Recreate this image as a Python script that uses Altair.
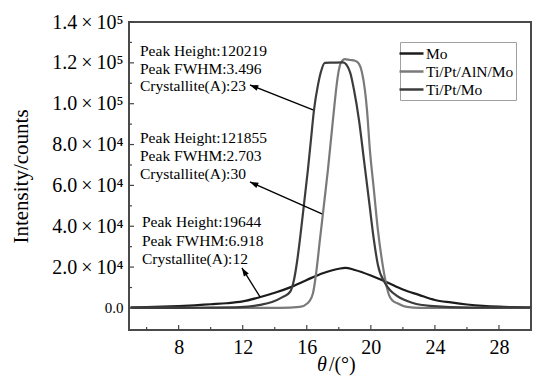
import altair as alt
import pandas as pd

# ---------------- data ----------------
series_names = ["Mo", "Ti/Pt/AlN/Mo", "Ti/Pt/Mo"]
series_colors = ["#1c1c1c", "#7a7a7a", "#3c3c3c"]

mo_x = [5, 6, 7, 8, 9, 10, 11, 12, 13, 14, 15, 16, 17, 18, 18.4, 19, 20, 21, 22, 23, 24, 25, 26, 27, 28, 29, 30]
mo_y = [300, 400, 600, 900, 1300, 1800, 2300, 3200, 5100, 7400, 10200, 13700, 17000, 19200, 19644, 18600,
        15900, 12600, 9000, 6400, 3900, 2700, 1700, 1000, 600, 400, 300]

aln_x = [5, 10, 14.33, 15.57, 16.07, 16.39, 16.57, 16.82, 17.07, 17.32, 17.57, 17.76, 17.95, 18.13, 18.38,
         18.70, 19.01, 19.26, 19.44, 19.63, 19.76, 19.94, 20.19, 20.44, 20.69, 20.94, 21.13, 21.32, 21.63,
         22.25, 23.06, 30]
aln_y = [0, 0, 0, 500, 2400, 7300, 16200, 33300, 50400, 67600, 87100, 101800, 114100, 120000, 121855,
         121400, 121000, 119500, 115500, 106700, 96900, 77400, 57800, 38200, 23500, 12200, 6400, 3900, 2400,
         500, 0, 0]

tpm_x = [5, 8, 10, 11.83, 13.08, 13.83, 14.51, 14.95, 15.20, 15.39, 15.57, 15.82, 16.07, 16.26, 16.45, 16.70,
         16.88, 17.13, 17.60, 18.26, 18.70, 18.95, 19.26, 19.57, 19.88, 20.19, 20.44, 20.88, 21.19, 21.63,
         22.63, 23.69, 26.19, 30]
tpm_y = [0, 50, 150, 400, 1500, 2900, 5400, 7800, 13700, 22500, 33300, 50400, 67600, 82300, 96900, 109200,
         115500, 120000, 120100, 120219, 115500, 106700, 92000, 72500, 52900, 33300, 21100, 12200, 8800, 5900,
         2400, 1000, 150, 100]

y_major = [0, 20000, 40000, 60000, 80000, 100000, 120000, 140000]
y_minor = [10000, 30000, 50000, 70000, 90000, 110000, 130000]
x_major = [8, 12, 16, 20, 24, 28]
x_minor = [6, 10, 14, 18, 22, 26]

ann_text = ["Peak Height:120219", "Peak FWHM:3.496", "Crystallite(A):23",
            "Peak Height:121855", "Peak FWHM:2.703", "Crystallite(A):30",
            "Peak Height:19644", "Peak FWHM:6.918", "Crystallite(A):12"]

# ---------------- tables ----------------
rows = []
for name, xs, ys in [(series_names[0], mo_x, mo_y), (series_names[1], aln_x, aln_y), (series_names[2], tpm_x, tpm_y)]:
    for xv, yv in zip(xs, ys):
        rows.append({"series": name, "x": xv, "y": yv})
df = pd.DataFrame(rows)

ann_df = pd.DataFrame({
    "text": ann_text,
    "x": [5.587] * 6 + [5.711] * 3,
    "y": [123130, 114570, 106240, 80930, 72120, 63160, 39510, 30500, 21540],
})

arrow_df = pd.DataFrame({
    "x": [12.45, 12.45, 11.95],
    "y": [109180, 61690, 19580],
    "x2": [16.39, 16.95, 13.08],
    "y2": [96940, 46020, 5390],
    "ang": [291.7, 294.0, 328.0],
})

ymaj_df = pd.DataFrame({"v": y_major})
ymin_df = pd.DataFrame({"v": y_minor})
xmaj_df = pd.DataFrame({"v": x_major})
xmin_df = pd.DataFrame({"v": x_minor})

FONT = "Liberation Serif"
XS = alt.Scale(domain=[4.9, 30], nice=False, zero=False)
YS = alt.Scale(domain=[-10800, 140000], nice=False, zero=False)

ylabel_expr = ("datum.value == 0 ? '0.0' : (datum.value >= 100000 ? "
               "format(datum.value / 100000, '.1f') + '\u2009×\u200910⁵' : "
               "format(datum.value / 10000, '.1f') + '\u2009×\u200910⁴')")

lines = alt.Chart(df).mark_line(strokeWidth=2.2, interpolate="monotone").encode(
    x=alt.X("x:Q", scale=XS, axis=alt.Axis(values=x_major, ticks=False, domain=False, grid=False,
                                             labelFont=FONT, labelFontSize=20, labelColor="black",
                                             labelPadding=7, title=None)),
    y=alt.Y("y:Q", scale=YS, axis=alt.Axis(values=y_major, ticks=False, domain=False, grid=False,
                                             labelExpr=ylabel_expr, labelFont=FONT,
                                             labelFontSize={"condition": {"test": "datum.value == 0", "value": 15},
                                                            "value": 20},
                                             labelColor="black", labelPadding=6,
                                             title="Intensity/counts", titleFont=FONT, titleFontSize=21,
                                             titleFontWeight="normal", titleColor="black",
                                             titleX=-102, titleY=154, titleAngle=270,
                                             titleAlign="center", titleBaseline="alphabetic")),
    color=alt.Color("series:N", scale=alt.Scale(domain=series_names, range=series_colors),
                    legend=alt.Legend(title=None, orient="none", legendX=271, legendY=20,
                                      symbolType="M-1.5,0L1.5,0", symbolSize=256, symbolStrokeWidth=2.5,
                                      symbolFillColor="transparent",
                                      labelFont=FONT, labelFontSize=15.5, labelColor="black",
                                      labelOffset=5, rowPadding=0, padding=2,
                                      strokeColor="#a0a0a0", fillColor="white", labelLimit=300)),
)

yt_major = alt.Chart(ymaj_df).mark_rule(color="#444", strokeWidth=1.2).encode(
    y=alt.Y("v:Q", scale=YS), x=alt.value(0), x2=alt.value(5))
yt_minor = alt.Chart(ymin_df).mark_rule(color="#444", strokeWidth=1.2).encode(
    y=alt.Y("v:Q", scale=YS), x=alt.value(0), x2=alt.value(3))
xt_major = alt.Chart(xmaj_df).mark_rule(color="#444", strokeWidth=1.2).encode(
    x=alt.X("v:Q", scale=XS), y=alt.value(308), y2=alt.value(303))
xt_minor = alt.Chart(xmin_df).mark_rule(color="#444", strokeWidth=1.2).encode(
    x=alt.X("v:Q", scale=XS), y=alt.value(308), y2=alt.value(305))

ann = alt.Chart(ann_df).mark_text(align="left", baseline="alphabetic", font=FONT, fontSize=15.5,
                                  color="black").encode(
    x=alt.X("x:Q", scale=XS), y=alt.Y("y:Q", scale=YS), text="text:N")

arrows = alt.Chart(arrow_df).mark_rule(color="black", strokeWidth=1.3).encode(
    x=alt.X("x:Q", scale=XS), y=alt.Y("y:Q", scale=YS), x2="x2:Q", y2="y2:Q")

heads = alt.Chart(arrow_df).mark_point(shape="M0,0L-0.35,1L0.35,1Z", filled=True, color="black",
                                       opacity=1, size=280).encode(
    x=alt.X("x:Q", scale=XS), y=alt.Y("y:Q", scale=YS), angle=alt.Angle("ang:Q", scale=None))

xtitle_df = pd.DataFrame({"t": ["θ"], "x": [16.64], "y": [-30845]})
xtitle_df2 = pd.DataFrame({"t": ["/(°)"], "x": [17.38], "y": [-30845]})
xt1 = alt.Chart(xtitle_df).mark_text(align="left", baseline="alphabetic", font=FONT, fontSize=20,
                                     fontStyle="italic", color="black").encode(
    x=alt.X("x:Q", scale=XS), y=alt.Y("y:Q", scale=YS), text="t:N")
xt2 = alt.Chart(xtitle_df2).mark_text(align="left", baseline="alphabetic", font=FONT, fontSize=20,
                                      color="black").encode(
    x=alt.X("x:Q", scale=XS), y=alt.Y("y:Q", scale=YS), text="t:N")

chart = alt.layer(lines, yt_major, yt_minor, xt_major, xt_minor, arrows, heads, ann, xt1, xt2).properties(
    width=402, height=308,
    autosize=alt.AutoSizeParams(type="none"),
    padding={"left": 129, "top": 22, "right": 9, "bottom": 48},
    background="white",
).configure_view(stroke="#4a4a4a", strokeWidth=2)

chart.save("out.html", embed_options={"renderer": "svg", "actions": False})
